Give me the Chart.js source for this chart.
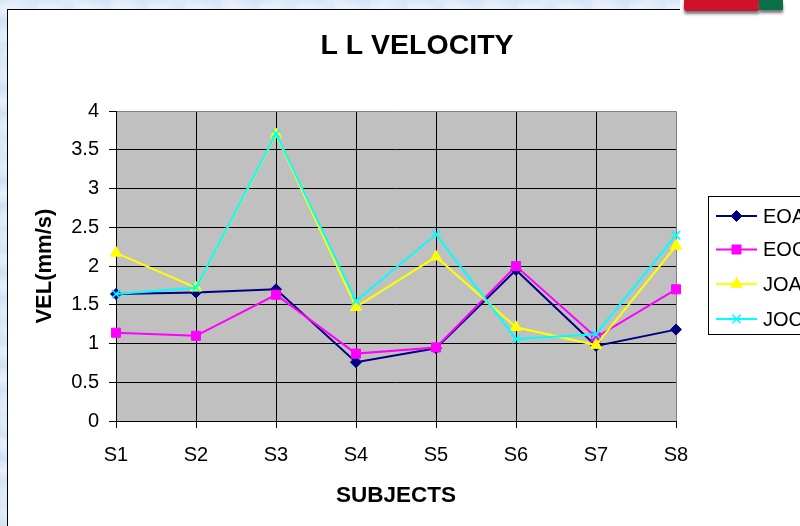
<!DOCTYPE html>
<html>
<head>
<meta charset="utf-8">
<style>
  html, body { margin: 0; padding: 0; width: 800px; height: 526px; overflow: hidden; background: #dde9f9; }
  /* mottled slide backdrop */
  #fondo { position: absolute; left: 0; top: 0; width: 800px; height: 526px;
    background:
      radial-gradient(ellipse at 30% 40%, rgba(255,255,255,.45), transparent 60%) 0 0 / 37px 23px,
      radial-gradient(ellipse at 70% 60%, rgba(175,205,238,.40), transparent 60%) 9px 5px / 53px 31px,
      #dde9f9; }
  #marco { position: absolute; left: 7px; top: 9px; width: 900px; height: 600px; background: #fff;
    border-left: 1px solid #000; border-top: 1px solid #000; }
  #tapa { position: absolute; left: 680px; top: 0; width: 120px; height: 10px; background: #fff; }
  #logo-r { position: absolute; left: 684px; top: 0; width: 75px; height: 11px; background: #cf1229; box-shadow: 0 3px 3px #777; border-bottom-left-radius: 3px; }
  #logo-v { position: absolute; left: 759px; top: 0; width: 24px; height: 10px; background: #0b7048; box-shadow: 0 3px 3px #777; }
  #grafica { position: absolute; left: 0; top: 0; }
</style>
</head>
<body>
<div id="fondo"></div>
<div id="marco"></div>
<div id="tapa"></div>
<div id="logo-r"></div>
<div id="logo-v"></div>
<canvas id="grafica" width="832" height="526"></canvas>
<script src="https://cdn.jsdelivr.net/npm/chart.js@4"></script>
<script>
const categories = ["S1", "S2", "S3", "S4", "S5", "S6", "S7", "S8"];
const eoa = [1.64, 1.66, 1.70, 0.76, 0.94, 1.95, 0.97, 1.18];
const eoc = [1.14, 1.10, 1.63, 0.87, 0.95, 2.00, 1.08, 1.70];
const joa = [2.17, 1.72, 3.70, 1.47, 2.12, 1.21, 0.98, 2.26];
const joc = [1.64, 1.72, 3.71, 1.55, 2.41, 1.06, 1.12, 2.40];
const seriesNames = ["EOA", "EOC", "JOA", "JOC"];
const yTicks = [0, 0.5, 1, 1.5, 2, 2.5, 3, 3.5, 4];

const FUENTE = "'Liberation Sans', Arial, sans-serif";

function serie(i, data, color, pointStyle, radius) {
  return {
    label: seriesNames[i],
    data: data,
    order: 3 - i, // la ultima serie queda encima
    yAxisID: "y",
    borderColor: color,
    backgroundColor: color,
    borderWidth: 2,
    tension: 0,
    pointStyle: pointStyle,
    pointRadius: radius,
    pointBorderColor: color,
    pointBackgroundColor: color,
    pointBorderWidth: pointStyle === "crossRot" ? 1.5 : 1
  };
}

// fondo gris del area de trazado
const fondoArea = {
  id: "fondoArea",
  beforeDraw(chart) {
    const a = chart.chartArea;
    chart.ctx.save();
    chart.ctx.fillStyle = "#c0c0c0";
    chart.ctx.fillRect(a.left, a.top, a.right - a.left, a.bottom - a.top);
    chart.ctx.restore();
  }
};

// leyenda estilo Excel: linea con marcador, recortada por la ventana
const leyenda = {
  id: "leyenda",
  afterDraw(chart) {
    const ctx = chart.ctx;
    const filas = [216, 249.5, 284, 319];
    ctx.save();
    ctx.fillStyle = "#fff";
    ctx.strokeStyle = "#000";
    ctx.lineWidth = 1;
    ctx.fillRect(708.5, 196.5, 115, 138);
    ctx.strokeRect(708.5, 196.5, 115, 138);
    chart.data.datasets.forEach((d, i) => {
      const y = filas[i];
      ctx.strokeStyle = d.borderColor;
      ctx.lineWidth = 2;
      ctx.beginPath();
      ctx.moveTo(716, y);
      ctx.lineTo(757, y);
      ctx.stroke();
      ctx.fillStyle = d.pointBackgroundColor;
      ctx.strokeStyle = d.pointBorderColor;
      ctx.lineWidth = d.pointBorderWidth;
      Chart.helpers.drawPoint(ctx, { pointStyle: d.pointStyle, radius: d.pointRadius, rotation: 0, borderWidth: d.pointBorderWidth }, 736.5, y);
      ctx.fillStyle = "#000";
      ctx.font = "20px " + FUENTE;
      ctx.textBaseline = "middle";
      ctx.fillText(d.label, 763, y + 1);
    });
    ctx.restore();
  }
};

new Chart(document.getElementById("grafica").getContext("2d"), {
  type: "line",
  data: {
    labels: categories,
    datasets: [
      serie(0, eoa, "#000080", "rectRot", 5.5),
      serie(1, eoc, "#ff00ff", "rect", 6.4),
      serie(2, joa, "#ffff00", "triangle", 6.5),
      serie(3, joc, "#00ffff", "crossRot", 6)
    ]
  },
  plugins: [fondoArea, leyenda],
  options: {
    responsive: false,
    animation: false,
    layout: { padding: { left: 32, right: 30, top: 29, bottom: 17 } },
    plugins: {
      legend: { display: false },
      tooltip: { enabled: false },
      title: {
        display: true,
        text: "L L VELOCITY",
        color: "#000",
        font: { family: FUENTE, size: 28.5, weight: "bold" },
        padding: { top: 0, bottom: 48 }
      }
    },
    scales: {
      x: {
        offset: false,
        afterFit(s) { s.height = 88; },
        title: { display: true, text: "SUBJECTS", color: "#000", font: { family: FUENTE, size: 22.5, weight: "bold" }, padding: { top: 14, bottom: 0 } },
        ticks: { color: "#000", font: { family: FUENTE, size: 20 }, padding: 15, maxRotation: 0, autoSkip: false },
        grid: { color: c => c.index === 7 ? "#808080" : "#000", lineWidth: 1, tickLength: 7, tickColor: "#000" },
        border: { color: "#000" }
      },
      y: {
        min: 0,
        max: 4,
        afterFit(s) { s.width = 84; },
        afterBuildTicks(s) { s.ticks = yTicks.map(v => ({ value: v })); },
        title: { display: true, text: "VEL(mm/s)", color: "#000", font: { family: FUENTE, size: 22, weight: "bold" }, padding: { top: 0, bottom: 0 } },
        ticks: { color: "#000", font: { family: FUENTE, size: 20 }, padding: 10, callback: v => String(v) },
        grid: { color: c => c.tick.value === 4 ? "#808080" : "#000", lineWidth: 1, tickLength: 7, tickColor: "#000" },
        border: { color: "#000" }
      },
      // eje vacio: reserva el sitio de la leyenda y deja el titulo centrado como en el original
      reserva: {
        position: "right",
        afterFit(s) { s.width = 126; },
        ticks: { display: false },
        grid: { display: false },
        border: { display: false }
      }
    }
  }
});
</script>
</body>
</html>
